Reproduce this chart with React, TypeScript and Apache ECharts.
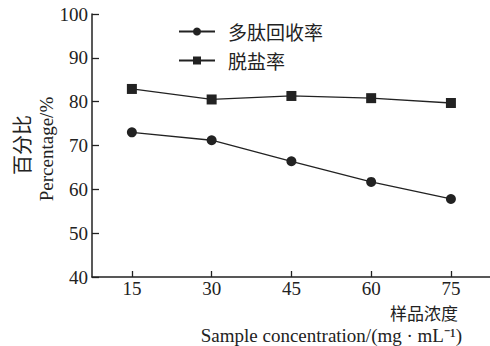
import React, { useEffect, useRef } from "react";
import * as echarts from "echarts";

const concentrations = [15, 30, 45, 60, 75];
const peptideRecovery = [73.0, 71.2, 66.4, 61.7, 57.8];
const desaltRate = [82.9, 80.5, 81.3, 80.8, 79.7];
const seriesNames = ["多肽回收率", "脱盐率"];
const yTicks = [40, 50, 60, 70, 80, 90, 100];

const SERIF = "'Liberation Serif', 'Times New Roman', serif";
const CJK = "Noto Sans CJK SC";

export default function App() {
  const ref = useRef<HTMLDivElement>(null);
  useEffect(() => {
    if (!ref.current) return;
    const chart = echarts.init(ref.current, undefined, { renderer: "svg" });
    chart.setOption({
      animation: false,
      backgroundColor: "#fff",
      textStyle: { fontFamily: SERIF },
      grid: { left: 92, top: 14, width: 398, height: 263, containLabel: false },
      legend: {
        orient: "vertical",
        left: 173,
        top: 17,
        itemWidth: 36,
        itemHeight: 10,
        itemGap: 10,
        data: seriesNames,
        textStyle: { fontSize: 19, color: "#222", fontFamily: CJK, padding: [0, 0, 0, 8] },
      },
      xAxis: {
        type: "value",
        min: 7.5,
        max: 82.35,
        splitLine: { show: false },
        axisLine: { lineStyle: { color: "#222", width: 1.5 } },
        axisTick: { inside: true, length: 6, lineStyle: { color: "#222", width: 1.3 }, customValues: concentrations },
        axisLabel: {
          customValues: concentrations,
          color: "#222",
          fontSize: 19,
          fontFamily: SERIF,
          margin: 2,
        },
      },
      yAxis: {
        type: "value",
        min: 40,
        max: 100,
        interval: 10,
        splitLine: { show: false },
        axisLine: { show: true, lineStyle: { color: "#222", width: 1.5 } },
        axisTick: { show: true, inside: true, length: 7, lineStyle: { color: "#222", width: 1.3 } },
        axisLabel: {
          color: "#222",
          fontSize: 19,
          fontFamily: SERIF,
          margin: 4,
          formatter: (v: number) => (yTicks.includes(v) ? String(v) : ""),
        },
      },
      series: [
        {
          name: seriesNames[0],
          type: "line",
          data: concentrations.map((c, i) => [c, peptideRecovery[i]]),
          symbol: "circle",
          symbolSize: 10,
          itemStyle: { color: "#222" },
          lineStyle: { color: "#222", width: 1.3 },
        },
        {
          name: seriesNames[1],
          type: "line",
          data: concentrations.map((c, i) => [c, desaltRate[i]]),
          symbol: "rect",
          symbolSize: 10,
          itemStyle: { color: "#222" },
          lineStyle: { color: "#222", width: 1.3 },
        },
      ],
      graphic: [
        {
          type: "text",
          x: 21,
          y: 145,
          rotation: Math.PI / 2,
          style: {
            text: "百分比",
            fontSize: 20,
            fontFamily: CJK,
            fill: "#222",
            align: "center",
            verticalAlign: "middle",
          },
        },
        {
          type: "text",
          x: 46,
          y: 149,
          rotation: Math.PI / 2,
          style: {
            text: "Percentage/%",
            fontSize: 19,
            fontFamily: SERIF,
            fill: "#222",
            align: "center",
            verticalAlign: "middle",
          },
        },
        {
          type: "text",
          x: 458,
          y: 312,
          style: {
            text: "样品浓度",
            fontSize: 17,
            fontFamily: CJK,
            fill: "#222",
            align: "right",
            verticalAlign: "middle",
          },
        },
        {
          type: "text",
          x: 462,
          y: 335,
          style: {
            text: "Sample concentration/(mg · mL⁻¹)",
            fontSize: 19,
            fontFamily: SERIF,
            fill: "#222",
            align: "right",
            verticalAlign: "middle",
          },
        },
      ],
    });
    return () => chart.dispose();
  }, []);
  return (
    <div
      ref={ref}
      style={{ position: "fixed", left: 0, top: 0, width: 490, height: 346 }}
    />
  );
}
